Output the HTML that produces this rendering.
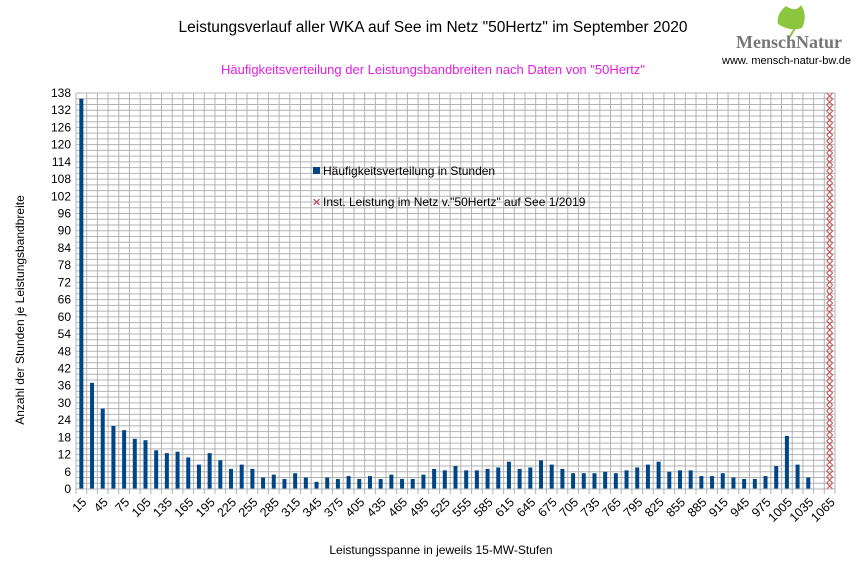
<!DOCTYPE html>
<html><head><meta charset="utf-8"><style>
body{margin:0;background:#fff;}
svg{display:block;font-family:"Liberation Sans",sans-serif;}
</style></head><body>
<svg id="s" width="866" height="578" xmlns="http://www.w3.org/2000/svg">
<text x="433" y="32" font-size="15.5" text-anchor="middle" fill="#000">Leistungsverlauf aller WKA auf See im Netz "50Hertz" im September 2020</text>
<text x="433" y="74" font-size="13" text-anchor="middle" fill="#e020e0">Häufigkeitsverteilung der Leistungsbandbreiten nach Daten von "50Hertz"</text>
<path d="M786 6 Q776 14 778 24 Q790 32 802 28 Q808 16 801 5 Q796 13 786 6Z" fill="#8cc63f"/>
<path d="M795 28 L789 38" stroke="#8cc63f" stroke-width="2"/>
<text x="736" y="48" font-size="18" font-family="Liberation Serif,serif" font-weight="bold" fill="#777">Mensch<tspan fill="#777">Natur</tspan></text>
<text x="722" y="64" font-size="11" fill="#000">www. mensch-natur-bw.de</text>
<g id="g"></g>
<text x="441" y="554" font-size="12" text-anchor="middle">Leistungsspanne in jeweils 15-MW-Stufen</text>
<text transform="translate(24,310) rotate(-90)" font-size="12" text-anchor="middle">Anzahl der Stunden je Leistungsbandbreite</text>
<rect x="313" y="167" width="7" height="7" fill="#004586"/>
<text x="323" y="175" font-size="12">Häufigkeitsverteilung in Stunden</text>
<text x="312" y="206" font-size="11" fill="#c0304d">✕</text>
<text x="323" y="206" font-size="12">Inst. Leistung im Netz v."50Hertz" auf See 1/2019</text>
</svg>
<script>
var L=76,R=835,T=93,B=489,n=71,cw=(R-L)/n,py=(B-T)/138;
var v=[136,37,28,22,20.5,17.5,17,13.5,12.5,13,11,8.5,12.5,10,7,8.5,7,4,5,3.5,5.5,4,2.5,4,3.5,4.5,3.5,4.5,3.5,5,3.5,3.5,5,7,6.5,8,6.5,6.5,7,7.5,9.5,7,7.5,10,8.5,7,5.5,5.5,5.5,6,5.5,6.5,7.5,8.5,9.5,6,6.5,6.5,4.5,4.5,5.5,4,3.5,3.5,4.5,8,18.5,8.5,4,0];
var s='';
for(var i=0;i<=69;i++){var y=B-i*2*py;s+='<line x1="'+L+'" x2="'+R+'" y1="'+y+'" y2="'+y+'" stroke="#b3b3b3" stroke-width="1"/>';}
for(var i=0;i<=n;i++){var x=L+i*cw;s+='<line x1="'+x+'" x2="'+x+'" y1="'+T+'" y2="'+(B+5)+'" stroke="#b3b3b3" stroke-width="1"/>';}
for(var k=0;k<=138;k+=6){var y=B-k*py;s+='<text x="'+(L-5)+'" y="'+(y+4)+'" font-size="12" text-anchor="end">'+k+'</text>';}
for(var i=0;i<v.length;i++){var h=v[i]*py,x=L+(i+0.5)*cw;s+='<rect x="'+(x-2)+'" y="'+(B-h)+'" width="4" height="'+h+'" fill="#004586"/>';}
var xr=L+70.5*cw;
for(var y=T;y<B;y+=6){s+='<path d="M'+(xr-3)+' '+y+' L'+(xr+3)+' '+(y+6)+' M'+(xr+3)+' '+y+' L'+(xr-3)+' '+(y+6)+'" stroke="#c0504d" stroke-width="1"/>';}
for(var i=0;i<n;i+=2){var x=L+(i+0.5)*cw+6,y=B+14;s+='<text transform="translate('+x+','+y+') rotate(-45)" font-size="12.5" text-anchor="end">'+(15+i*15)+'</text>';}
s+='<line x1="'+L+'" x2="'+R+'" y1="'+B+'" y2="'+B+'" stroke="#b3b3b3"/>';
document.getElementById('g').innerHTML=s;
</script>
</body></html>
